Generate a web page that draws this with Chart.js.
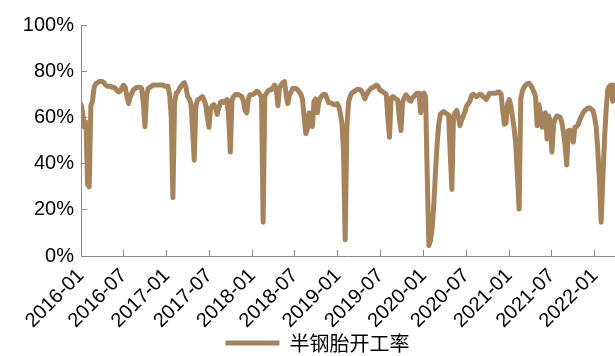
<!DOCTYPE html>
<html>
<head>
<meta charset="utf-8">
<script src="https://cdn.jsdelivr.net/npm/chart.js@4/dist/chart.umd.min.js"></script>
<style>
  html, body { margin: 0; padding: 0; background: #fff; }
  #c { display: block; }
</style>
</head>
<body>
<canvas id="c" width="615" height="356"></canvas>
<script>
// Weekly semi-steel tyre operating rate (%), one array per calendar year
const rate2016 = [
  65.6, 62, 56, 58, 31, 30, 65, 67, 73, 74.5,
  75, 75.5, 75.5, 75.5, 75, 74, 73.5, 73.5, 73.5, 73,
  73, 72.5, 71.5, 71, 71.5, 73, 74, 73, 69, 66,
  69, 70.5, 72, 72.5, 73, 73, 73, 72.5, 66, 56,
  70, 72.5, 73, 73.5, 74, 74, 74, 74, 74, 74,
  74, 73.5, 73.5
];
const rate2017 = [
  73.5, 70, 60, 25.2, 66, 70.5, 71, 72.5, 73.5, 74.5,
  75, 73, 69, 68, 66, 55, 41.5, 65, 67.5, 68,
  68.5, 69, 67.5, 65.5, 60, 55.7, 64, 65, 65.5, 64,
  61.3, 64, 66.5, 67, 66.5, 67, 67.7, 60, 45, 67.5,
  69, 69.8, 70, 69.8, 69.5, 69, 67, 63, 62, 68,
  69.8, 69.8
];
const rate2018 = [
  70, 70.5, 71.3, 71, 70, 69, 14.6, 69, 70.5, 71.5,
  72, 72, 73, 74, 72, 65, 73, 74, 75, 75.5,
  70, 66, 69.5, 71, 72.5, 72.5, 72.5, 72, 71, 70,
  67.7, 60, 53, 55, 62, 60, 56, 67, 68, 62,
  67, 68.5, 69.5, 70, 69.8, 68, 66.3, 66.3, 66, 65.5,
  65.5, 66
];
const rate2019 = [
  65, 62, 57.5, 45, 7, 55, 66.5, 69, 70.5, 71,
  71.5, 72, 72.2, 72, 71.5, 70, 68, 70, 71, 72,
  72.7, 73, 73.5, 74, 73.5, 72, 71.5, 71, 70.5, 70,
  60, 51.4, 68.5, 69, 68.5, 68, 67.5, 60, 54.3, 66.5,
  68.5, 69.8, 69, 67.5, 67, 68.5, 69, 70, 70.5, 70.5,
  62, 70
];
const rate2020 = [
  70.5, 69, 35, 4.5, 6.8, 12, 22, 36, 48, 57,
  61.3, 62, 62.5, 62, 61.5, 61, 45, 28.8, 60.6, 62,
  63, 60, 56.4, 59, 60.6, 62.5, 64.9, 66, 67, 69.5,
  70, 69.5, 69, 69.5, 70, 69.8, 69, 68.5, 67.7, 69,
  70.5, 70.5, 70.5, 70.5, 70.5, 71, 71, 70, 63, 57,
  57.5, 66
];
const rate2021 = [
  67.7, 65, 60, 55, 48, 34, 20.3, 68, 71.5, 73,
  74, 74.5, 74.8, 74, 72.7, 71, 69, 56.4, 65.6, 62,
  55.7, 60, 62, 50.7, 60.6, 58, 45, 57, 59.5, 60.6,
  60.5, 60, 58, 53.5, 48, 39.4, 54.3, 54.5, 54, 49.3,
  55.7, 56, 57, 59, 60.6, 62, 63, 63.5, 64, 64.2,
  63.5, 63, 60
];
const rate2022 = [
  55.7, 45, 32, 14.6, 33, 50, 63, 72, 73.5, 74, 67, 74
];

const seriesName = '半钢胎开工率';
const firstWeek = '2016-01-01';
const tickMonths = [
  '2016-01', '2016-07', '2017-01', '2017-07', '2018-01', '2018-07', '2019-01',
  '2019-07', '2020-01', '2020-07', '2021-01', '2021-07', '2022-01'
];
const axisEnd = '2022-03-28';
const yTicks = [0, 20, 40, 60, 80, 100];

// ---- build the weekly series on a day-count axis ----
const DAY = 86400000;
const t0 = Date.parse(firstWeek + 'T00:00:00Z');
const dayOf = s => Math.round((Date.parse(s + 'T00:00:00Z') - t0) / DAY);
const rates = [].concat(rate2016, rate2017, rate2018, rate2019, rate2020, rate2021, rate2022);
const weekDates = rates.map((_, i) => new Date(t0 + i * 7 * DAY).toISOString().slice(0, 10));
const points = weekDates.map((d, i) => ({ x: dayOf(d), y: rates[i] }));
const tickDays = tickMonths.map(m => dayOf(m + '-01'));

const lineColor = 'rgb(166,131,91)';
const axisColor = '#8a8a8a';
const tickFont = { family: "'Liberation Sans', Arial, sans-serif", size: 20 };

new Chart(document.getElementById('c'), {
  type: 'line',
  data: {
    datasets: [{
      label: seriesName,
      data: points,
      borderColor: lineColor,
      backgroundColor: lineColor,
      borderWidth: 5,
      pointRadius: 0,
      tension: 0,
      borderJoinStyle: 'round',
      borderCapStyle: 'round'
    }]
  },
  options: {
    responsive: false,
    animation: false,
    devicePixelRatio: 1,
    layout: { padding: { top: 9, right: 0, left: 20, bottom: -7 } },
    plugins: {
      tooltip: { enabled: false },
      legend: {
        position: 'bottom',
        labels: {
          usePointStyle: true,
          pointStyle: 'line',
          pointStyleWidth: 54,
          color: '#000',
          padding: 4,
          font: { family: "'Noto Sans CJK SC', sans-serif", size: 20 }
        }
      }
    },
    scales: {
      x: {
        type: 'linear',
        min: 0,
        max: dayOf(axisEnd),
        afterBuildTicks: s => { s.ticks = tickDays.map(v => ({ value: v })); },
        afterFit: s => { s.height = 73; s.paddingRight = 0; s.paddingLeft = 0; },
        ticks: {
          autoSkip: false,
          minRotation: 45,
          maxRotation: 45,
          padding: 14,
          color: '#000',
          font: tickFont,
          callback: (v, i) => tickMonths[i]
        },
        grid: { drawOnChartArea: false, drawTicks: true, tickLength: -6, color: axisColor },
        border: { display: true, color: axisColor, width: 1 }
      },
      y: {
        min: 0,
        max: 100,
        afterBuildTicks: s => { s.ticks = yTicks.map(v => ({ value: v })); },
        afterFit: s => { s.width = 61; },
        ticks: {
          padding: 13,
          color: '#000',
          font: tickFont,
          callback: v => v + '%'
        },
        grid: { drawOnChartArea: false, drawTicks: true, tickLength: -6, color: axisColor },
        border: { display: true, color: axisColor, width: 1 }
      }
    }
  }
});
</script>
</body>
</html>
